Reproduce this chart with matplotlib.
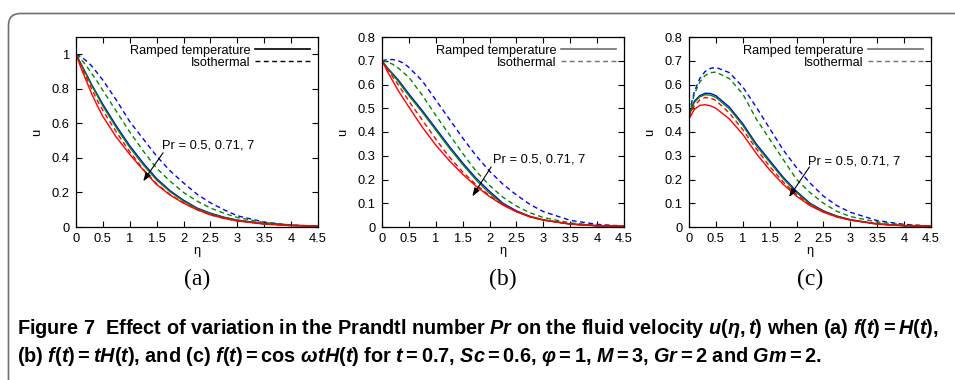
import matplotlib
matplotlib.use("Agg")
import matplotlib.pyplot as plt
import matplotlib.transforms as mtransforms
from matplotlib.lines import Line2D
from matplotlib.patches import FancyBboxPatch

eta = [0, 0.1, 0.2, 0.3, 0.4, 0.5, 0.75, 1.0, 1.25, 1.5, 1.75, 2.0, 2.25, 2.5,
       2.75, 3.0, 3.5, 4.0, 4.5]

# (a) f(t) = H(t)
a_ramp_05 = [1.0, 0.94, 0.88, 0.82, 0.765, 0.71, 0.585, 0.47, 0.37, 0.28, 0.21, 0.155, 0.11, 0.08, 0.057, 0.04, 0.02, 0.01, 0.005]
a_ramp_071 = [1.0, 0.938, 0.876, 0.815, 0.758, 0.70, 0.575, 0.46, 0.36, 0.272, 0.204, 0.15, 0.107, 0.077, 0.055, 0.039, 0.019, 0.009, 0.004]
a_ramp_7 = [1.0, 0.915, 0.84, 0.765, 0.70, 0.64, 0.52, 0.42, 0.33, 0.245, 0.185, 0.138, 0.10, 0.07, 0.05, 0.035, 0.017, 0.008, 0.004]
a_iso_05 = [1.0, 0.985, 0.96, 0.93, 0.89, 0.85, 0.735, 0.61, 0.51, 0.41, 0.325, 0.255, 0.19, 0.14, 0.10, 0.065, 0.028, 0.011, 0.004]
a_iso_071 = [1.0, 0.968, 0.93, 0.885, 0.84, 0.79, 0.67, 0.55, 0.44, 0.34, 0.265, 0.20, 0.15, 0.11, 0.08, 0.055, 0.026, 0.012, 0.005]
a_iso_7 = [1.0, 0.93, 0.86, 0.795, 0.73, 0.675, 0.55, 0.435, 0.335, 0.25, 0.188, 0.14, 0.10, 0.071, 0.05, 0.035, 0.017, 0.008, 0.004]

# (b) f(t) = tH(t)
b_ramp_05 = [0.70, 0.67, 0.645, 0.62, 0.59, 0.56, 0.49, 0.415, 0.34, 0.27, 0.205, 0.15, 0.10, 0.068, 0.045, 0.03, 0.013, 0.006, 0.003]
b_ramp_071 = [0.70, 0.668, 0.641, 0.614, 0.583, 0.553, 0.483, 0.408, 0.333, 0.263, 0.198, 0.142, 0.096, 0.065, 0.043, 0.029, 0.012, 0.005, 0.003]
b_ramp_7 = [0.70, 0.655, 0.615, 0.575, 0.54, 0.505, 0.42, 0.345, 0.28, 0.222, 0.172, 0.128, 0.092, 0.064, 0.043, 0.029, 0.012, 0.005, 0.003]
b_iso_05 = [0.70, 0.705, 0.705, 0.70, 0.69, 0.672, 0.615, 0.535, 0.455, 0.375, 0.30, 0.235, 0.18, 0.135, 0.095, 0.065, 0.028, 0.011, 0.004]
b_iso_071 = [0.70, 0.695, 0.685, 0.67, 0.65, 0.63, 0.555, 0.47, 0.39, 0.31, 0.235, 0.175, 0.125, 0.088, 0.06, 0.04, 0.017, 0.007, 0.003]
b_iso_7 = [0.70, 0.665, 0.632, 0.60, 0.565, 0.53, 0.45, 0.37, 0.295, 0.232, 0.178, 0.132, 0.094, 0.065, 0.044, 0.03, 0.012, 0.005, 0.003]

# (c) f(t) = cos(wt)H(t)
c_ramp_05 = [0.47, 0.53, 0.553, 0.563, 0.562, 0.553, 0.505, 0.435, 0.35, 0.28, 0.21, 0.15, 0.10, 0.068, 0.046, 0.031, 0.013, 0.006, 0.003]
c_ramp_071 = [0.47, 0.525, 0.548, 0.557, 0.555, 0.546, 0.498, 0.428, 0.343, 0.273, 0.204, 0.145, 0.097, 0.066, 0.045, 0.03, 0.013, 0.006, 0.003]
c_ramp_7 = [0.455, 0.495, 0.512, 0.515, 0.51, 0.50, 0.455, 0.39, 0.31, 0.24, 0.18, 0.13, 0.09, 0.062, 0.042, 0.029, 0.012, 0.005, 0.003]
c_iso_05 = [0.48, 0.57, 0.625, 0.655, 0.668, 0.672, 0.65, 0.59, 0.505, 0.415, 0.325, 0.25, 0.185, 0.13, 0.09, 0.062, 0.027, 0.011, 0.004]
c_iso_071 = [0.47, 0.56, 0.61, 0.638, 0.65, 0.652, 0.625, 0.56, 0.455, 0.37, 0.285, 0.20, 0.145, 0.10, 0.066, 0.044, 0.021, 0.009, 0.004]
c_iso_7 = [0.46, 0.51, 0.535, 0.545, 0.543, 0.533, 0.48, 0.41, 0.33, 0.255, 0.19, 0.136, 0.093, 0.064, 0.043, 0.029, 0.012, 0.005, 0.003]

pr_colors = ["#0000ff", "#008a00", "#ff0000"]  # Pr = 0.5, 0.71, 7
panel_names = ["(a)", "(b)", "(c)"]
ytop = [1.1, 0.8, 0.8]
ystep = [0.2, 0.1, 0.1]
legend_color = ["black", "#707070", "#707070"]
ramp = [[a_ramp_05, a_ramp_071, a_ramp_7],
        [b_ramp_05, b_ramp_071, b_ramp_7],
        [c_ramp_05, c_ramp_071, c_ramp_7]]
iso = [[a_iso_05, a_iso_071, a_iso_7],
       [b_iso_05, b_iso_071, b_iso_7],
       [c_iso_05, c_iso_071, c_iso_7]]
# text / arrow (tail, head) for the Pr annotation
pr_text = [(1.59, 0.47), (2.06, 0.284), (2.21, 0.277)]
pr_arrow = [((1.62, 0.43), (1.25, 0.265)),
            ((2.03, 0.253), (1.68, 0.129)),
            ((2.24, 0.253), (1.86, 0.126))]

plt.rcParams["font.family"] = ["Liberation Sans", "DejaVu Sans"]
plt.rcParams["mathtext.fontset"] = "custom"
plt.rcParams["mathtext.rm"] = "Liberation Sans:bold"
plt.rcParams["mathtext.it"] = "Liberation Sans:italic:bold"
plt.rcParams["mathtext.bf"] = "Liberation Sans:bold"

W, H = 955, 380
fig = plt.figure(figsize=(W / 100, H / 100), dpi=100)

lefts = [76, 382, 689]
for i in range(3):
    ax = fig.add_axes([lefts[i] / W, 153 / H, 242 / W, 190 / H])
    for k in range(3):
        ax.plot(eta, ramp[i][k], color=pr_colors[k], lw=1.0)
        ax.plot(eta, iso[i][k], color=pr_colors[k], lw=1.0, dashes=(3.5, 2.5))
    ax.set_xlim(0, 4.5)
    ax.set_ylim(0, ytop[i])
    ax.set_xticks([0, 0.5, 1, 1.5, 2, 2.5, 3, 3.5, 4, 4.5])
    ax.set_xticklabels(["0", "0.5", "1", "1.5", "2", "2.5", "3", "3.5", "4", "4.5"])
    nt = int(round(0.8 / ystep[i])) if i else 5
    yt = [round(j * ystep[i], 2) for j in range(nt + 1)]
    ax.set_yticks(yt)
    ax.set_yticklabels([("%g" % v) for v in yt])
    ax.tick_params(direction="in", length=4, width=0.8, top=True, right=True,
                   labelsize=9.3, pad=4.5)
    for s in ax.spines.values():
        s.set_linewidth(0.9)
    ax.set_xlabel("η", fontsize=9.3, labelpad=0)
    ax.set_ylabel("u", fontsize=9.3, labelpad=6)

    handles = [Line2D([], [], color=legend_color[i], lw=1.2),
               Line2D([], [], color=legend_color[i], lw=1.0, dashes=(3.5, 2.5))]
    ax.legend(handles, ["Ramped temperature", "Isothermal"], loc="upper right",
              markerfirst=False, frameon=False, fontsize=9.2, handlelength=4.3,
              handletextpad=0.4, labelspacing=0.02, borderpad=0.1,
              borderaxespad=0.5)

    ax.text(pr_text[i][0], pr_text[i][1], "Pr = 0.5, 0.71, 7", fontsize=9.3,
            va="center", ha="left")
    (x0, y0), (x1, y1) = pr_arrow[i]
    ax.annotate("", xy=(x1, y1), xytext=(x0, y0),
                arrowprops=dict(arrowstyle="-|>,head_length=0.5,head_width=0.18",
                                color="black", lw=0.8, shrinkA=0, shrinkB=0))

    fig.text((lefts[i] + 121) / W, 1 - 279 / H, panel_names[i], ha="center",
             va="center", fontsize=17, family="Liberation Serif")

# rounded frame around the figure (only top-left corner visible)
frame = FancyBboxPatch((8.5, -60), 1100, 380 - 13.5 + 60,
                       boxstyle="round,pad=0,rounding_size=12",
                       transform=mtransforms.IdentityTransform(),
                       fill=False, ec="#707070", lw=1.2)
fig.patches.append(frame)

line1 = (r"Figure 7  Effect of variation in the Prandtl number $Pr$ on the fluid "
         r"velocity $u(\eta,t)$ when (a) $f(t)=H(t)$,")
line2 = (r"(b) $f(t)=tH(t)$, and (c) $f(t)=\cos\,\omega tH(t)$ for $t=0.7$, "
         r"$Sc=0.6$, $\varphi=1$, $M=3$, $Gr=2$ and $Gm=2$.")
fig.text(17 / W, 1 - 334 / H, line1, fontsize=14.3, fontweight="bold",
         va="baseline", ha="left")
fig.text(17 / W, 1 - 362.5 / H, line2, fontsize=14.3, fontweight="bold",
         va="baseline", ha="left")

fig.savefig("out.png", dpi=100)
